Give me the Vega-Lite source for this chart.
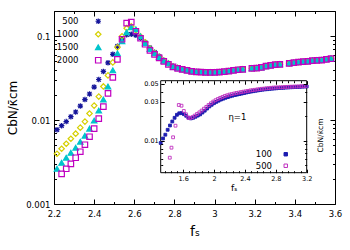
{
"$schema":"https://vega.github.io/schema/vega-lite/v6.json",
"width":281,"height":193,
"autosize":{"type":"none"},
"padding":{"left":54,"top":11,"right":15,"bottom":46},
"config":{"view":{"stroke":"black","strokeWidth":1},"font":"DejaVu Sans",
 "axis":{"domain":false,"grid":false,"tickColor":"black","labelColor":"black","titleColor":"black","titleFontWeight":"normal","tickWidth":1,"labelFlush":false,"labelOverlap":false}},
"datasets":{
"main":[
{"N":"500","f":2.215,"c":0.00769},{"N":"500","f":2.238,"c":0.00859},{"N":"500","f":2.261,"c":0.0096},{"N":"500","f":2.284,"c":0.011},{"N":"500","f":2.308,"c":0.0125},{"N":"500","f":2.331,"c":0.0147},{"N":"500","f":2.354,"c":0.0176},{"N":"500","f":2.377,"c":0.0205},{"N":"500","f":2.4,"c":0.0248},{"N":"500","f":2.423,"c":0.0305},{"N":"500","f":2.446,"c":0.0381},{"N":"500","f":2.469,"c":0.0482},{"N":"500","f":2.493,"c":0.0609},{"N":"500","f":2.516,"c":0.0759},{"N":"500","f":2.539,"c":0.0933},{"N":"500","f":2.562,"c":0.1042},{"N":"500","f":2.585,"c":0.1057},{"N":"500","f":2.608,"c":0.1028},{"N":"500","f":2.631,"c":0.0946},{"N":"500","f":2.654,"c":0.0848},{"N":"500","f":2.678,"c":0.0728},{"N":"500","f":2.701,"c":0.0643},{"N":"500","f":2.724,"c":0.0576},{"N":"500","f":2.747,"c":0.0516},{"N":"500","f":2.77,"c":0.0475},{"N":"500","f":2.793,"c":0.0437},{"N":"500","f":2.816,"c":0.042},
{"N":"500","f":2.839,"c":0.0403},{"N":"500","f":2.863,"c":0.0392},{"N":"500","f":2.886,"c":0.0381},{"N":"500","f":2.909,"c":0.0376},{"N":"500","f":2.932,"c":0.0374},{"N":"500","f":2.955,"c":0.0371},{"N":"500","f":2.978,"c":0.0371},{"N":"500","f":3.001,"c":0.0371},{"N":"500","f":3.024,"c":0.0374},{"N":"500","f":3.048,"c":0.0378},{"N":"500","f":3.071,"c":0.0384},{"N":"500","f":3.094,"c":0.0392},{"N":"500","f":3.117,"c":0.0399},{"N":"500","f":3.14,"c":0.0403},{"N":"500","f":3.186,"c":0.0414},{"N":"500","f":3.21,"c":0.0417},{"N":"500","f":3.233,"c":0.0425},{"N":"500","f":3.256,"c":0.044},{"N":"500","f":3.279,"c":0.0449},{"N":"500","f":3.302,"c":0.0458},{"N":"500","f":3.325,"c":0.0462},{"N":"500","f":3.372,"c":0.0475},{"N":"500","f":3.395,"c":0.0484},{"N":"500","f":3.418,"c":0.0492},{"N":"500","f":3.441,"c":0.0498},{"N":"500","f":3.464,"c":0.0502},{"N":"500","f":3.487,"c":0.0512},{"N":"500","f":3.51,"c":0.0516},{"N":"500","f":3.534,"c":0.052},{"N":"500","f":3.557,"c":0.053},{"N":"500","f":3.58,"c":0.0541},
{"N":"1000","f":2.215,"c":0.00397},{"N":"1000","f":2.238,"c":0.00456},{"N":"1000","f":2.261,"c":0.00523},{"N":"1000","f":2.284,"c":0.006},{"N":"1000","f":2.308,"c":0.00689},{"N":"1000","f":2.331,"c":0.00813},{"N":"1000","f":2.354,"c":0.0096},{"N":"1000","f":2.377,"c":0.012},{"N":"1000","f":2.4,"c":0.0149},{"N":"1000","f":2.423,"c":0.0191},{"N":"1000","f":2.446,"c":0.0252},{"N":"1000","f":2.469,"c":0.0341},{"N":"1000","f":2.493,"c":0.0488},{"N":"1000","f":2.516,"c":0.0738},{"N":"1000","f":2.539,"c":0.1},{"N":"1000","f":2.562,"c":0.1247},{"N":"1000","f":2.585,"c":0.1317},{"N":"1000","f":2.608,"c":0.118},{"N":"1000","f":2.631,"c":0.1},{"N":"1000","f":2.654,"c":0.0848},{"N":"1000","f":2.678,"c":0.0715},{"N":"1000","f":2.701,"c":0.0635},{"N":"1000","f":2.724,"c":0.057},{"N":"1000","f":2.747,"c":0.0512},{"N":"1000","f":2.77,"c":0.0475},{"N":"1000","f":2.793,"c":0.0437},{"N":"1000","f":2.816,"c":0.042},
{"N":"1000","f":2.839,"c":0.0403},{"N":"1000","f":2.863,"c":0.0392},{"N":"1000","f":2.886,"c":0.0381},{"N":"1000","f":2.909,"c":0.0376},{"N":"1000","f":2.932,"c":0.0374},{"N":"1000","f":2.955,"c":0.0371},{"N":"1000","f":2.978,"c":0.0371},{"N":"1000","f":3.001,"c":0.0371},{"N":"1000","f":3.024,"c":0.0374},{"N":"1000","f":3.048,"c":0.0378},{"N":"1000","f":3.071,"c":0.0384},{"N":"1000","f":3.094,"c":0.0392},{"N":"1000","f":3.117,"c":0.0399},{"N":"1000","f":3.14,"c":0.0403},{"N":"1000","f":3.186,"c":0.0414},{"N":"1000","f":3.21,"c":0.0417},{"N":"1000","f":3.233,"c":0.0425},{"N":"1000","f":3.256,"c":0.044},{"N":"1000","f":3.279,"c":0.0449},{"N":"1000","f":3.302,"c":0.0458},{"N":"1000","f":3.325,"c":0.0462},{"N":"1000","f":3.372,"c":0.0475},{"N":"1000","f":3.395,"c":0.0484},{"N":"1000","f":3.418,"c":0.0492},{"N":"1000","f":3.441,"c":0.0498},{"N":"1000","f":3.464,"c":0.0502},{"N":"1000","f":3.487,"c":0.0512},{"N":"1000","f":3.51,"c":0.0516},{"N":"1000","f":3.534,"c":0.052},{"N":"1000","f":3.557,"c":0.053},{"N":"1000","f":3.58,"c":0.0541},
{"N":"1500","f":2.215,"c":0.00263},{"N":"1500","f":2.238,"c":0.0031},{"N":"1500","f":2.261,"c":0.00356},{"N":"1500","f":2.284,"c":0.00408},{"N":"1500","f":2.308,"c":0.00469},{"N":"1500","f":2.331,"c":0.00553},{"N":"1500","f":2.354,"c":0.00652},{"N":"1500","f":2.377,"c":0.00791},{"N":"1500","f":2.4,"c":0.00986},{"N":"1500","f":2.423,"c":0.013},{"N":"1500","f":2.446,"c":0.0176},{"N":"1500","f":2.469,"c":0.0252},{"N":"1500","f":2.493,"c":0.0392},{"N":"1500","f":2.516,"c":0.0626},{"N":"1500","f":2.539,"c":0.0871},{"N":"1500","f":2.562,"c":0.1116},{"N":"1500","f":2.585,"c":0.1282},{"N":"1500","f":2.608,"c":0.1213},{"N":"1500","f":2.631,"c":0.1},{"N":"1500","f":2.654,"c":0.0825},{"N":"1500","f":2.678,"c":0.0705},{"N":"1500","f":2.701,"c":0.0628},{"N":"1500","f":2.724,"c":0.0565},{"N":"1500","f":2.747,"c":0.051},{"N":"1500","f":2.77,"c":0.0475},{"N":"1500","f":2.793,"c":0.0437},{"N":"1500","f":2.816,"c":0.042},
{"N":"1500","f":2.839,"c":0.0403},{"N":"1500","f":2.863,"c":0.0392},{"N":"1500","f":2.886,"c":0.0381},{"N":"1500","f":2.909,"c":0.0376},{"N":"1500","f":2.932,"c":0.0374},{"N":"1500","f":2.955,"c":0.0371},{"N":"1500","f":2.978,"c":0.0371},{"N":"1500","f":3.001,"c":0.0371},{"N":"1500","f":3.024,"c":0.0374},{"N":"1500","f":3.048,"c":0.0378},{"N":"1500","f":3.071,"c":0.0384},{"N":"1500","f":3.094,"c":0.0392},{"N":"1500","f":3.117,"c":0.0399},{"N":"1500","f":3.14,"c":0.0403},{"N":"1500","f":3.186,"c":0.0414},{"N":"1500","f":3.21,"c":0.0417},{"N":"1500","f":3.233,"c":0.0425},{"N":"1500","f":3.256,"c":0.044},{"N":"1500","f":3.279,"c":0.0449},{"N":"1500","f":3.302,"c":0.0458},{"N":"1500","f":3.325,"c":0.0462},{"N":"1500","f":3.372,"c":0.0475},{"N":"1500","f":3.395,"c":0.0484},{"N":"1500","f":3.418,"c":0.0492},{"N":"1500","f":3.441,"c":0.0498},{"N":"1500","f":3.464,"c":0.0502},{"N":"1500","f":3.487,"c":0.0512},{"N":"1500","f":3.51,"c":0.0516},{"N":"1500","f":3.534,"c":0.052},{"N":"1500","f":3.557,"c":0.053},{"N":"1500","f":3.58,"c":0.0541},
{"N":"2000","f":2.238,"c":0.00229},{"N":"2000","f":2.261,"c":0.00263},{"N":"2000","f":2.284,"c":0.00301},{"N":"2000","f":2.308,"c":0.00356},{"N":"2000","f":2.331,"c":0.0042},{"N":"2000","f":2.354,"c":0.00509},{"N":"2000","f":2.377,"c":0.00634},{"N":"2000","f":2.4,"c":0.00791},{"N":"2000","f":2.423,"c":0.0104},{"N":"2000","f":2.446,"c":0.0145},{"N":"2000","f":2.469,"c":0.0208},{"N":"2000","f":2.493,"c":0.0323},{"N":"2000","f":2.516,"c":0.053},{"N":"2000","f":2.539,"c":0.0921},{"N":"2000","f":2.562,"c":0.1431},{"N":"2000","f":2.585,"c":0.1471},{"N":"2000","f":2.608,"c":0.1148},{"N":"2000","f":2.631,"c":0.0946},{"N":"2000","f":2.654,"c":0.0802},{"N":"2000","f":2.678,"c":0.068},{"N":"2000","f":2.701,"c":0.0609},{"N":"2000","f":2.724,"c":0.0553},{"N":"2000","f":2.747,"c":0.0502},{"N":"2000","f":2.77,"c":0.0462},{"N":"2000","f":2.793,"c":0.0431},{"N":"2000","f":2.816,"c":0.0414},
{"N":"2000","f":2.839,"c":0.0403},{"N":"2000","f":2.863,"c":0.0392},{"N":"2000","f":2.886,"c":0.0381},{"N":"2000","f":2.909,"c":0.0376},{"N":"2000","f":2.932,"c":0.0374},{"N":"2000","f":2.955,"c":0.0371},{"N":"2000","f":2.978,"c":0.0371},{"N":"2000","f":3.001,"c":0.0371},{"N":"2000","f":3.024,"c":0.0374},{"N":"2000","f":3.048,"c":0.0378},{"N":"2000","f":3.071,"c":0.0384},{"N":"2000","f":3.094,"c":0.0392},{"N":"2000","f":3.117,"c":0.0399},{"N":"2000","f":3.14,"c":0.0403},{"N":"2000","f":3.186,"c":0.0414},{"N":"2000","f":3.21,"c":0.0417},{"N":"2000","f":3.233,"c":0.0425},{"N":"2000","f":3.256,"c":0.044},{"N":"2000","f":3.279,"c":0.0449},{"N":"2000","f":3.302,"c":0.0458},{"N":"2000","f":3.325,"c":0.0462},{"N":"2000","f":3.372,"c":0.0475},{"N":"2000","f":3.395,"c":0.0484},{"N":"2000","f":3.418,"c":0.0492},{"N":"2000","f":3.441,"c":0.0498},{"N":"2000","f":3.464,"c":0.0502},{"N":"2000","f":3.487,"c":0.0512},{"N":"2000","f":3.51,"c":0.0516},{"N":"2000","f":3.534,"c":0.052},{"N":"2000","f":3.557,"c":0.053},{"N":"2000","f":3.58,"c":0.0541}
],
"inset":[
{"N":"100","f":1.31,"c":0.00937},{"N":"100","f":1.34,"c":0.01064},{"N":"100","f":1.37,"c":0.01185},{"N":"100","f":1.4,"c":0.01362},{"N":"100","f":1.43,"c":0.01539},{"N":"100","f":1.46,"c":0.01724},{"N":"100","f":1.49,"c":0.01915},{"N":"100","f":1.52,"c":0.02085},{"N":"100","f":1.55,"c":0.02176},{"N":"100","f":1.58,"c":0.02189},{"N":"100","f":1.61,"c":0.02122},{"N":"100","f":1.64,"c":0.02027},{"N":"100","f":1.67,"c":0.0192},{"N":"100","f":1.7,"c":0.01883},{"N":"100","f":1.73,"c":0.01915},{"N":"100","f":1.76,"c":0.01971},{"N":"100","f":1.79,"c":0.02039},{"N":"100","f":1.82,"c":0.0211},{"N":"100","f":1.85,"c":0.0222},{"N":"100","f":1.88,"c":0.02343},{"N":"100","f":1.91,"c":0.02487},{"N":"100","f":1.94,"c":0.0264},{"N":"100","f":1.97,"c":0.0277},{"N":"100","f":2.0,"c":0.029},{"N":"100","f":2.03,"c":0.03009},{"N":"100","f":2.06,"c":0.03113},{"N":"100","f":2.09,"c":0.03211},{"N":"100","f":2.12,"c":0.03294},{"N":"100","f":2.15,"c":0.0338},{"N":"100","f":2.18,"c":0.03448},{"N":"100","f":2.21,"c":0.03527},{"N":"100","f":2.24,"c":0.03588},{"N":"100","f":2.27,"c":0.03649},{"N":"100","f":2.3,"c":0.03701},{"N":"100","f":2.33,"c":0.03754},{"N":"100","f":2.36,"c":0.03808},{"N":"100","f":2.39,"c":0.03862},{"N":"100","f":2.42,"c":0.03928},{"N":"100","f":2.45,"c":0.03985},{"N":"100","f":2.48,"c":0.0403},{"N":"100","f":2.51,"c":0.04076},{"N":"100","f":2.54,"c":0.04123},{"N":"100","f":2.57,"c":0.0417},{"N":"100","f":2.6,"c":0.04217},{"N":"100","f":2.63,"c":0.04253},{"N":"100","f":2.66,"c":0.0429},{"N":"100","f":2.69,"c":0.04314},{"N":"100","f":2.72,"c":0.04351},{"N":"100","f":2.75,"c":0.04375},{"N":"100","f":2.78,"c":0.04401},{"N":"100","f":2.81,"c":0.04426},{"N":"100","f":2.84,"c":0.04451},{"N":"100","f":2.87,"c":0.04476},{"N":"100","f":2.9,"c":0.04489},{"N":"100","f":2.93,"c":0.04515},{"N":"100","f":2.96,"c":0.04528},{"N":"100","f":2.99,"c":0.04554},{"N":"100","f":3.02,"c":0.04567},{"N":"100","f":3.05,"c":0.0458},{"N":"100","f":3.08,"c":0.04593},{"N":"100","f":3.11,"c":0.04606},{"N":"100","f":3.14,"c":0.04632},{"N":"100","f":3.17,"c":0.04645},{"N":"100","f":3.2,"c":0.04659},
{"N":"500","f":1.4275,"c":0.00617},{"N":"500","f":1.4495,"c":0.0082},{"N":"500","f":1.4703,"c":0.01101},{"N":"500","f":1.5014,"c":0.0153},{"N":"500","f":1.5442,"c":0.02754},{"N":"500","f":1.5792,"c":0.027},{"N":"500","f":1.6091,"c":0.02323},{"N":"500","f":1.6376,"c":0.02116},{"N":"500","f":1.6661,"c":0.0192},{"N":"500","f":1.69,"c":0.01899},{"N":"500","f":1.72,"c":0.01954},{"N":"500","f":1.75,"c":0.02039},{"N":"500","f":1.78,"c":0.02133},{"N":"500","f":1.81,"c":0.02233},{"N":"500","f":1.84,"c":0.0235},{"N":"500","f":1.87,"c":0.0248},{"N":"500","f":1.9,"c":0.02609},{"N":"500","f":1.93,"c":0.02754},{"N":"500","f":1.96,"c":0.02891},{"N":"500","f":1.99,"c":0.03034},{"N":"500","f":2.02,"c":0.03156},{"N":"500","f":2.05,"c":0.03266},{"N":"500","f":2.08,"c":0.0337},{"N":"500","f":2.11,"c":0.03457},{"N":"500","f":2.14,"c":0.03556},{"N":"500","f":2.17,"c":0.03628},{"N":"500","f":2.2,"c":0.03701},{"N":"500","f":2.23,"c":0.03754},{"N":"500","f":2.26,"c":0.03819},{"N":"500","f":2.29,"c":0.03873},{"N":"500","f":2.32,"c":0.03917},{"N":"500","f":2.35,"c":0.03973},{"N":"500","f":2.38,"c":0.04019},{"N":"500","f":2.41,"c":0.04064},{"N":"500","f":2.44,"c":0.0411},{"N":"500","f":2.47,"c":0.0417},{"N":"500","f":2.5,"c":0.04205},{"N":"500","f":2.53,"c":0.04241},{"N":"500","f":2.56,"c":0.0429},{"N":"500","f":2.59,"c":0.04326},{"N":"500","f":2.62,"c":0.04363},{"N":"500","f":2.65,"c":0.04388},{"N":"500","f":2.68,"c":0.04426},{"N":"500","f":2.71,"c":0.04451},{"N":"500","f":2.74,"c":0.04489},{"N":"500","f":2.77,"c":0.04515},{"N":"500","f":2.8,"c":0.04528},{"N":"500","f":2.83,"c":0.04541},{"N":"500","f":2.86,"c":0.04554},{"N":"500","f":2.89,"c":0.04567},{"N":"500","f":2.92,"c":0.04593},{"N":"500","f":2.95,"c":0.04606},{"N":"500","f":2.98,"c":0.0462},{"N":"500","f":3.01,"c":0.04632},{"N":"500","f":3.04,"c":0.04645},{"N":"500","f":3.07,"c":0.04659},{"N":"500","f":3.1,"c":0.04672},{"N":"500","f":3.13,"c":0.04685},{"N":"500","f":3.16,"c":0.04698},{"N":"500","f":3.19,"c":0.04724}
]},
"layer":[
{
 "data":{"name":"main"},
 "layer":[
  {"mark":{"type":"point","size":30,"strokeWidth":1.2,"opacity":1},
   "encoding":{
    "x":{"field":"f","type":"quantitative","scale":{"domain":[2.2,3.6],"nice":false,"zero":false},
      "axis":{"orient":"bottom","title":"fₛ","titleFontSize":14,"titlePadding":4,"labelFontSize":8.5,"labelPadding":10,
        "values":[2.2,2.3,2.4,2.5,2.6,2.7,2.8,2.9,3.0,3.1,3.2,3.3,3.4,3.5,3.6],
        "labelExpr":"round(datum.value*10)%2==0 ? format(datum.value,'~g') : ''",
        "tickSize":{"condition":{"test":"round(datum.value*10)%2==0","value":-5},"value":-2.5}}},
    "y":{"field":"c","type":"quantitative","scale":{"type":"log","domain":[0.001,0.2],"nice":false},
      "axis":{"orient":"left","title":"CbN/κ̄cm","titleFontSize":12,"titlePadding":6,"labelFontSize":8.5,"labelPadding":9,
        "values":[0.001,0.002,0.003,0.004,0.005,0.006,0.007,0.008,0.009,0.01,0.02,0.03,0.04,0.05,0.06,0.07,0.08,0.09,0.1,0.2],
        "labelExpr":"datum.value==0.001 ? '0.001' : datum.value==0.01 ? '0.01' : datum.value==0.1 ? '0.1' : ''",
        "tickSize":{"condition":{"test":"datum.value==0.001||datum.value==0.01||datum.value==0.1","value":-5},"value":-2.5}}},
    "shape":{"field":"N","type":"nominal","scale":{"domain":["500","1000","1500","2000"],"range":["M-1,0L1,0M0,-1L0,1M-0.75,-0.75L0.75,0.75M-0.75,0.75L0.75,-0.75","diamond","triangle-up","square"]},
      "legend":{"orient":"none","legendX":40,"legendY":6,"title":null,"labelAlign":"right","labelOffset":-24,"labelFontSize":8.5,"symbolSize":30,"symbolStrokeWidth":1.2,"rowPadding":2}},
    "stroke":{"field":"N","type":"nominal","scale":{"domain":["500","1000","1500","2000"],"range":["#14149a","#d6d000","#00c4cc","#c000c0"]},
      "legend":{"orient":"none","legendX":40,"legendY":6,"title":null,"labelAlign":"right","labelOffset":-24,"labelFontSize":8.5,"symbolSize":30,"symbolStrokeWidth":1.2,"rowPadding":2}},
    "fill":{"field":"N","type":"nominal","scale":{"domain":["500","1000","1500","2000"],"range":["transparent","transparent","#00c4cc","transparent"]},
      "legend":{"orient":"none","legendX":40,"legendY":6,"title":null,"labelAlign":"right","labelOffset":-24,"labelFontSize":8.5,"symbolSize":30,"symbolStrokeWidth":1.2,"rowPadding":2}}
   }},
  {"mark":{"type":"point","opacity":0},
   "encoding":{
    "x":{"field":"f","type":"quantitative","scale":{"domain":[2.2,3.6],"nice":false,"zero":false},
      "axis":{"orient":"top","title":null,"labels":false,
        "values":[2.2,2.3,2.4,2.5,2.6,2.7,2.8,2.9,3.0,3.1,3.2,3.3,3.4,3.5,3.6],
        "tickSize":{"condition":{"test":"round(datum.value*10)%2==0","value":-5},"value":-2.5}}},
    "y":{"field":"c","type":"quantitative","scale":{"type":"log","domain":[0.001,0.2],"nice":false},
      "axis":{"orient":"right","title":null,"labels":false,
        "values":[0.001,0.002,0.003,0.004,0.005,0.006,0.007,0.008,0.009,0.01,0.02,0.03,0.04,0.05,0.06,0.07,0.08,0.09,0.1,0.2],
        "tickSize":{"condition":{"test":"datum.value==0.001||datum.value==0.01||datum.value==0.1","value":-5},"value":-2.5}}}
   }}
 ],
 "resolve":{"axis":{"x":"independent","y":"independent"}}
},
{
 "layer":[
  {"data":{"values":[{}]},
   "mark":{"type":"rect","fill":"white","stroke":"black","strokeWidth":1},
   "encoding":{
    "x":{"datum":1.31,"type":"quantitative","scale":{"domain":[1.31,3.2],"range":[106.7,252.7],"nice":false,"zero":false},
      "axis":{"orient":"bottom","offset":-31.3,"zindex":1,"title":"fₛ","titleFontSize":9,"titlePadding":0,"labelFontSize":6.5,"labelPadding":6,
        "values":[1.36,1.44,1.52,1.6,1.68,1.76,1.84,1.92,2,2.08,2.16,2.24,2.32,2.4,2.48,2.56,2.64,2.72,2.8,2.88,2.96,3.04,3.12,3.2],
        "labelExpr":"indexof([1.6,2,2.4,2.8,3.2],datum.value)>=0 ? format(datum.value,'~g') : ''",
        "tickSize":{"condition":{"test":"indexof([1.6,2,2.4,2.8,3.2],datum.value)>=0","value":-3.5},"value":-2}}},
    "x2":{"datum":3.2},
    "y":{"datum":0.00403,"type":"quantitative","scale":{"type":"log","domain":[0.00403,0.0549],"range":[161.7,69.7],"nice":false},
      "axis":{"orient":"left","offset":-106.7,"zindex":1,"title":null,"labelFontSize":6.5,"labelPadding":6,
        "values":[0.005,0.006,0.007,0.008,0.009,0.01,0.02,0.03,0.04,0.05],
        "labelExpr":"datum.value==0.01 ? '0.01' : datum.value==0.03 ? '0.03' : datum.value==0.05 ? '0.05' : ''",
        "tickSize":{"condition":{"test":"datum.value==0.01||datum.value==0.03||datum.value==0.05","value":-3.5},"value":-2}}},
    "y2":{"datum":0.0549}
   }},
  {"data":{"name":"inset"},
   "mark":{"type":"point","shape":"square","size":8,"strokeWidth":0.9,"opacity":1},
   "encoding":{
    "x":{"field":"f","type":"quantitative","scale":{"domain":[1.31,3.2],"range":[106.7,252.7],"nice":false,"zero":false},
      "axis":{"orient":"top","offset":-69.7,"zindex":1,"title":null,"labels":false,
        "values":[1.36,1.44,1.52,1.6,1.68,1.76,1.84,1.92,2,2.08,2.16,2.24,2.32,2.4,2.48,2.56,2.64,2.72,2.8,2.88,2.96,3.04,3.12,3.2],
        "tickSize":{"condition":{"test":"indexof([1.6,2,2.4,2.8,3.2],datum.value)>=0","value":-3.5},"value":-2}}},
    "y":{"field":"c","type":"quantitative","scale":{"type":"log","domain":[0.00403,0.0549],"range":[161.7,69.7],"nice":false},
      "axis":{"orient":"right","offset":-28.3,"zindex":1,"labels":false,"title":"CbN/κ̄cm","titleAngle":270,"titleFontSize":7.5,"titlePadding":17,"titleY":124,
        "values":[0.005,0.006,0.007,0.008,0.009,0.01,0.02,0.03,0.04,0.05],
        "tickSize":{"condition":{"test":"datum.value==0.01||datum.value==0.03||datum.value==0.05","value":-3.5},"value":-2}}},
    "fill":{"field":"N","type":"nominal","scale":{"domain":["100","500"],"range":["#1c1cb0","transparent"]},
      "legend":{"orient":"none","legendX":227.5,"legendY":139,"title":null,"labelAlign":"right","labelOffset":-18,"labelFontSize":8.5,"symbolType":"square","symbolSize":12,"symbolStrokeWidth":1,"rowPadding":2.5}},
    "stroke":{"field":"N","type":"nominal","scale":{"domain":["100","500"],"range":["#1c1cb0","#c030c0"]},
      "legend":{"orient":"none","legendX":227.5,"legendY":139,"title":null,"labelAlign":"right","labelOffset":-18,"labelFontSize":8.5,"symbolType":"square","symbolSize":12,"symbolStrokeWidth":1,"rowPadding":2.5}}
   }},
  {"data":{"values":[{}]},
   "mark":{"type":"text","fontSize":8.5,"align":"center","baseline":"middle","color":"black"},
   "encoding":{
    "x":{"datum":2.303,"type":"quantitative","scale":{"domain":[1.31,3.2],"range":[106.7,252.7],"nice":false,"zero":false},"axis":null},
    "y":{"datum":0.0196,"type":"quantitative","scale":{"type":"log","domain":[0.00403,0.0549],"range":[161.7,69.7],"nice":false},"axis":null},
    "text":{"value":"η=1"}
   }}
 ],
 "resolve":{"axis":{"x":"independent","y":"independent"}}
}
],
"resolve":{"scale":{"x":"independent","y":"independent","shape":"independent","stroke":"independent","fill":"independent"},"axis":{"x":"independent","y":"independent"}}
}
